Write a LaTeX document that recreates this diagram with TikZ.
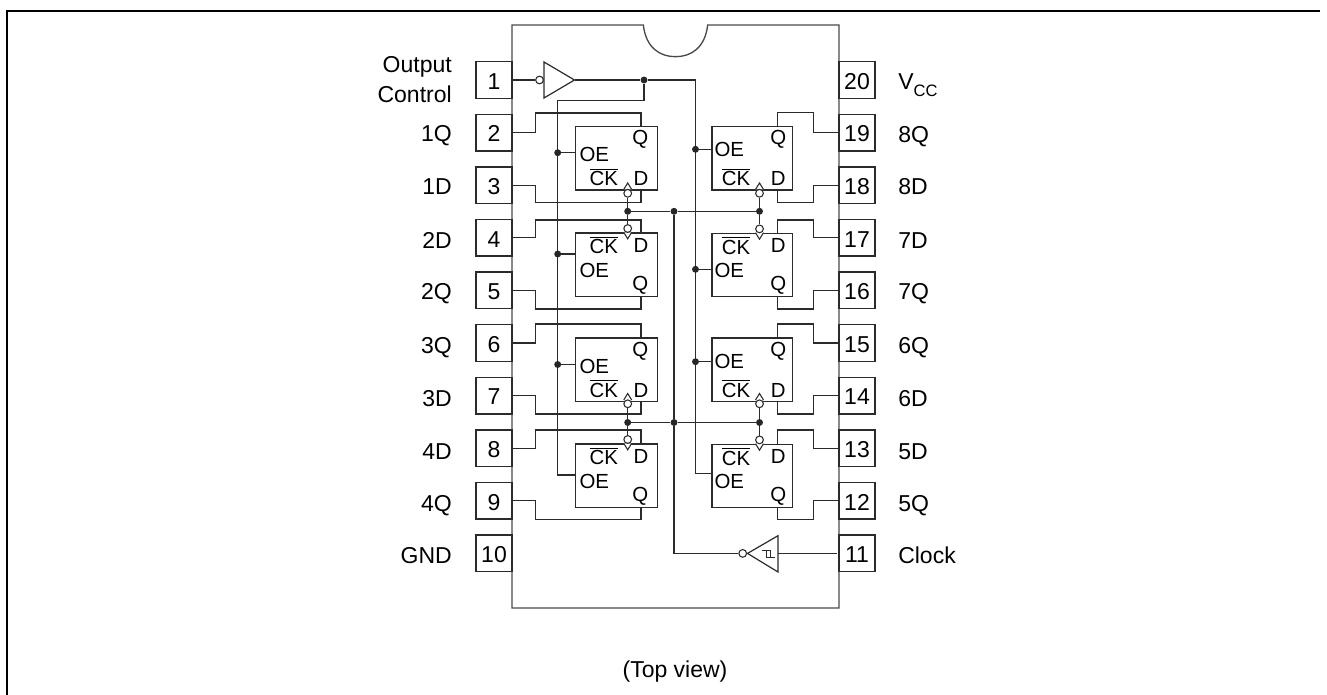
\documentclass[tikz,border=0pt]{standalone}
\usepackage{fontspec}
\setmainfont{Liberation Sans}
\usetikzlibrary{calc}
\definecolor{ln}{HTML}{2B2B2B}
\definecolor{pk}{HTML}{4A4A4A}
\newcommand{\ckbar}{\setbox0\hbox{CK}\rlap{\raisebox{\dimexpr\ht0+1.6pt}{\rule{\wd0}{0.6pt}}}CK}
\tikzset{
  wire/.style={draw=ln,line width=0.9pt},
  pinbox/.style={draw=ln,line width=1pt,fill=white,minimum width=27pt,minimum height=27.4pt,inner sep=0pt,text height=13.9pt,text depth=0pt,font=\fontsize{17.25}{20}\selectfont},
  ffbox/.style={draw=ln,line width=1pt,anchor=north west,minimum width=61pt,minimum height=47.5pt,inner sep=0pt},
  fftext/.style={anchor=base west,inner sep=0pt,font=\fontsize{15.3}{18}\selectfont},
  lbl/.style={inner sep=0pt,font=\fontsize{17.25}{20}\selectfont},
  lbll/.style={lbl,anchor=base east},
  lblr/.style={lbl,anchor=base west},
  dot/.style={circle,fill=black!85,inner sep=0pt,minimum size=5.2pt},
  bub/.style={circle,draw=ln,line width=0.8pt,fill=white,inner sep=0pt,minimum size=5.8pt},
}
% top-OE flip-flop: name, box x, box top, OE dx, OE dy, CK dx, D dx, Q dx
\newcommand{\ffup}[9]{%
  \node[ffbox,minimum width=#9pt] (#1) at (#2,#3) {};
  \node[fftext] (#1oe) at ($(#2,#3)+(#4,#5)$) {OE};
  \node[fftext] (#1ck) at ($(#2,#3)+(#6,60)$) {\ckbar};
  \node[fftext] (#1d) at ($(#2,#3)+(#7,60)$) {D};
  \node[fftext] (#1q) at ($(#2,#3)+(#8,19)$) {Q};
}
\newcommand{\ffdn}[8]{%
  \node[ffbox,minimum width=#8pt] (#1) at (#2,#3) {};
  \node[fftext] (#1oe) at ($(#2,#3)+(#4,45)$) {OE};
  \node[fftext] (#1ck) at ($(#2,#3)+(#5,21.6)$) {\ckbar};
  \node[fftext] (#1d) at ($(#2,#3)+(#6,20)$) {D};
  \node[fftext] (#1q) at ($(#2,#3)+(#7,58)$) {Q};
}
% clock inputs: x, edge y
\newcommand{\clkup}[3]{%
  \draw[wire,line width=0.8pt,fill=white] (#2-4,#3) -- (#2,#3-6.5) -- (#2+4,#3);
  \node[bub] (#1) at (#2,#3+3.8) {};
}
\newcommand{\clkdn}[3]{%
  \draw[wire,line width=0.8pt,fill=white] (#2-4,#3) -- (#2,#3+6.5) -- (#2+4,#3);
  \node[bub] (#1) at (#2,#3-3.8) {};
}
\begin{document}
\begin{tikzpicture}[x=0.75pt,y=-0.75pt]
\useasboundingbox (0,0) rectangle (1327,695);
% outer frame
\draw[black,line width=1.5pt] (7,695) -- (7,11) -- (1320,11);
% package
\draw[pk,line width=1pt] (512,25) -- (643.3,25) .. controls (646,48) and (660,56.7) .. (675.5,56.7) .. controls (691,56.7) and (705,48) .. (707.7,25) -- (839,25) -- (839,608) -- (512,608) -- cycle;
% pins
\foreach \n/\y in {1/80,2/132.6,3/185.2,4/237.8,5/290.4,6/343,7/395.6,8/448.2,9/500.8,10/553.4}
  \node[pinbox] (p\n) at (494,\y) {\n};
\foreach \n/\y in {20/80,19/132.6,18/185.2,17/237.8,16/290.4,15/343,14/395.6,13/448.2,12/500.8,11/553.4}
  \node[pinbox] (p\n) at (857,\y) {\n};
% pin labels
\node[lbll] (lout) at (452,73) {Output};
\node[lbll] (lctl) at (452,103) {Control};
\foreach \t/\y in {1Q/142,1D/195,2D/248,2Q/300,3Q/353,3D/406,4D/459,4Q/511,GND/563}
  \node[lbll] (l\t) at (452,\y) {\t};
\node[lblr] (lvcc) at (898,90) {V\raisebox{-5pt}{\fontsize{12.4}{14}\selectfont CC}};
\foreach \t/\y in {8Q/143,8D/195,7D/248,7Q/300,6Q/353,6D/406,5D/459,5Q/511,Clock/563}
  \node[lblr] (l\t) at (898,\y) {\t};
\node[lbl,anchor=base] (ltop) at (675,677) {(Top view)};
% flip-flops
\ffup{fa}{574.5}{126}{4.8}{35.7}{14.8}{58.8}{57.5}{61.8}
\ffdn{fb}{574.5}{232.3}{4.8}{14.8}{58.8}{57.5}{61.8}
\ffup{fc}{574.5}{337.3}{4.8}{35.7}{14.8}{58.8}{57.5}{61.8}
\ffdn{fd}{574.5}{443.3}{4.8}{14.8}{58.8}{57.5}{61.8}
\ffup{fh}{711.3}{126}{3}{30.7}{10.4}{59.4}{58.7}{60.3}
\ffdn{fg}{711.3}{232.7}{3}{10.4}{59.4}{58.7}{60.3}
\ffup{ff}{711.3}{337.3}{3}{30.7}{10.4}{59.4}{58.7}{60.3}
\ffdn{fe}{711.3}{443.7}{3}{10.4}{59.4}{58.7}{60.3}
% data / output wires, left
\draw[wire] (p2.east) -- ++(23,0) |- (641,113) -- (fa.north -| 641,0);
\draw[wire] (p3.east) -- ++(23,0) |- (641,202.5) -- (fa.south -| 641,0);
\draw[wire] (p4.east) -- ++(23,0) |- (641,220) -- (fb.north -| 641,0);
\draw[wire] (p5.east) -- ++(23,0) |- (641,309) -- (fb.south -| 641,0);
\draw[wire] (p6.east) -- ++(23,0) |- (641,324) -- (fc.north -| 641,0);
\draw[wire] (p7.east) -- ++(23,0) |- (641,414) -- (fc.south -| 641,0);
\draw[wire] (p8.east) -- ++(23,0) |- (641,430) -- (fd.north -| 641,0);
\draw[wire] (p9.east) -- ++(23,0) |- (641,519.5) -- (fd.south -| 641,0);
% data / output wires, right
\draw[wire] (p19.west) -- ++(-24.7,0) |- (777.7,112.7) -- (fh.north -| 777.7,0);
\draw[wire] (p18.west) -- ++(-24.7,0) |- (777.7,202.7) -- (fh.south -| 777.7,0);
\draw[wire] (p17.west) -- ++(-24.7,0) |- (777.7,220) -- (fg.north -| 777.7,0);
\draw[wire] (p16.west) -- ++(-24.7,0) |- (777.7,309) -- (fg.south -| 777.7,0);
\draw[wire] (p15.west) -- ++(-24.7,0) |- (777.7,324) -- (ff.north -| 777.7,0);
\draw[wire] (p14.west) -- ++(-24.7,0) |- (777.7,414) -- (ff.south -| 777.7,0);
\draw[wire] (p13.west) -- ++(-24.7,0) |- (777.7,430) -- (fe.north -| 777.7,0);
\draw[wire] (p12.west) -- ++(-24.7,0) |- (777.7,519.3) -- (fe.south -| 777.7,0);
% output-control buffer
\node[bub] (ib) at (539.5,80) {};
\draw[wire] (p1.east) -- (ib.west);
\coordinate (iout) at (574.5,80);
\draw[wire,fill=white] (544,62) -- (iout) -- (544,98) -- cycle;
\node[dot] (oc) at (644,80) {};
\coordinate (rtop) at (695.5,80);
\coordinate (ltop2) at (557.7,100.5);
\coordinate (oeB) at (557.7,475);
\coordinate (oeR) at (695.5,473.3);
\draw[wire] (iout) -- (oc) -- (rtop) -- (oeR) -- (oeR -| fe.west);
\draw[wire] (oc) |- (ltop2) -- (oeB) -- (oeB -| fd.west);
\node[dot] (oa) at (557.7,152.7) {};
\node[dot] (ob) at (557.7,254) {};
\node[dot] (oc2) at (557.7,364.5) {};
\node[dot] (oh) at (695.5,149.3) {};
\node[dot] (og) at (695.5,269.3) {};
\node[dot] (of) at (695.5,361.7) {};
\draw[wire] (oa) -- (oa -| fa.west);
\draw[wire] (ob) -- (ob -| fb.west);
\draw[wire] (oc2) -- (oc2 -| fc.west);
\draw[wire] (oh) -- (oh -| fh.west);
\draw[wire] (og) -- (og -| fg.west);
\draw[wire] (of) -- (of -| ff.west);
% clock
\clkup{ca}{627.7}{189.5}
\clkdn{cb}{627.7}{232.3}
\clkup{cc}{627.7}{400}
\clkdn{cd}{627.7}{443.3}
\clkup{ch}{759.5}{189.5}
\clkdn{cg}{759.5}{232.7}
\clkup{cf}{759.5}{400}
\clkdn{ce}{759.5}{443.7}
\node[dot] (j1) at (627.7,211.3) {};
\node[dot] (j2) at (674,211.3) {};
\node[dot] (j3) at (759.5,211.3) {};
\node[dot] (j4) at (627.7,422.5) {};
\node[dot] (j5) at (674,422.5) {};
\node[dot] (j6) at (759.5,422.5) {};
\draw[wire] (ca) -- (j1) -- (cb);
\draw[wire] (ch) -- (j3) -- (cg);
\draw[wire] (cc) -- (j4) -- (cd);
\draw[wire] (cf) -- (j6) -- (ce);
\draw[wire] (j1) -- (j2) -- (j3);
\draw[wire] (j4) -- (j5) -- (j6);
% clock buffer
\node[bub] (sb) at (742.7,553.4) {};
\coordinate (sin) at (778,553.4);
\coordinate (spin) at (836.7,553.4);
\draw[wire] (j2) -- (j5) |- (sb.west);
\draw[wire,fill=white] (778,535.7) -- (747.5,553.4) -- (778,572) -- cycle;
\draw[wire] (spin) -- (sin);
\draw[wire,line width=0.6pt] (761.5,550) -- (770.5,550) -- (770.5,557) -- (774.5,557) (766,550) -- (766,557) -- (770.5,557);
\end{tikzpicture}
\end{document}
